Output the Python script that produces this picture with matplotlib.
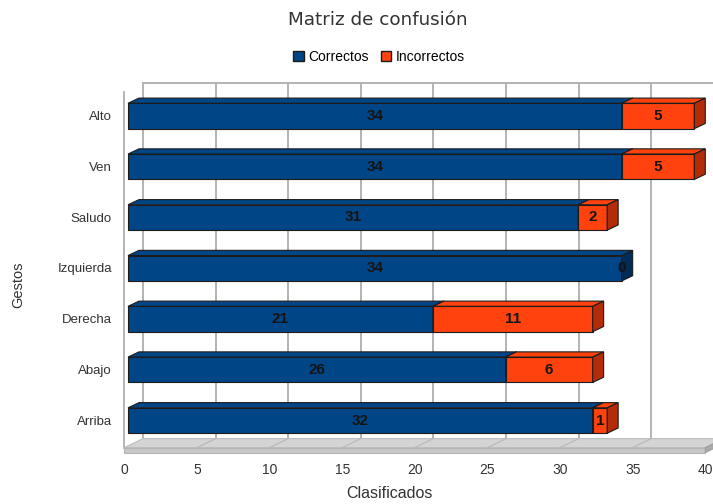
import matplotlib
matplotlib.use("Agg")
import matplotlib.pyplot as plt
from matplotlib.patches import Polygon, Rectangle, Patch
import numpy as np

# Gestures, listed top to bottom
categories = ["Alto", "Ven", "Saludo", "Izquierda", "Derecha", "Abajo", "Arriba"]
correctos = [34, 34, 31, 34, 21, 26, 32]
incorrectos = [5, 5, 2, 0, 11, 6, 1]
xticks = [0, 5, 10, 15, 20, 25, 30, 35, 40]

BLUE = "#004586"
BLUE_SIDE = "#002c57"
ORANGE = "#ff420e"
ORANGE_SIDE = "#b22c08"
EDGE = "#1c1c1c"
GRID = "#b3b3b3"
TEXT = "#333333"

# depth offsets in pixels (x right, y up), relative to the bar front plane
FLOOR_FRONT = np.array([-3.5, -1.7])
BAR_BACK = np.array([11.0, 5.2])
BACK_WALL = np.array([15.0, 7.3])
FLOOR_THICK = 5.0

W, H = 713, 504
fig = plt.figure(figsize=(W / 100, H / 100), dpi=100)
fig.patch.set_facecolor("white")

# axes = bar front plane: value 0 at x=128px, 14.52 px per unit
x0_px, px_unit = 128, 14.52
top_px, bot_px = 90.6, 445.9
ax = fig.add_axes([x0_px / W, (H - bot_px) / H, 40 * px_unit / W, (bot_px - top_px) / H])
ax.set_xlim(0, 40)
ax.set_ylim(-0.5, 6.5)
ax.axis("off")

ypos = np.arange(len(categories))[::-1]
fig.canvas.draw()


def shift(pts, off):
    """Move data points by a pixel offset, returning data coordinates."""
    disp = ax.transData.transform(np.asarray(pts, float)) + off
    return ax.transData.inverted().transform(disp)


def poly(pts, **kw):
    kw.setdefault("clip_on", False)
    ax.add_patch(Polygon(pts, closed=True, **kw))


# back wall grid
for t in xticks:
    seg = shift([[t, -0.5], [t, 6.5]], BACK_WALL)
    ax.plot(seg[:, 0], seg[:, 1], color=GRID, lw=1.4, clip_on=False, zorder=1)
seg = shift([[0, 6.5], [40, 6.5]], BACK_WALL)
ax.plot(seg[:, 0], seg[:, 1], color=GRID, lw=1.4, clip_on=False, zorder=1)

# left wall edge
seg = shift([[0, -0.5], [0, 6.5]], FLOOR_FRONT)
ax.plot(seg[:, 0], seg[:, 1], color="#a8a8a8", lw=1.2, clip_on=False, zorder=1)

# floor slab
front = shift([[0, -0.5], [40, -0.5]], FLOOR_FRONT)
back = shift([[0, -0.5], [40, -0.5]], BACK_WALL)
poly([front[0], front[1], back[1], back[0]], facecolor="#d4d4d4",
     edgecolor="#bdbdbd", lw=0.8, zorder=2)
low = shift([[0, -0.5], [40, -0.5]], FLOOR_FRONT + [0, -FLOOR_THICK])
poly([front[0], front[1], low[1], low[0]], facecolor="#c8c8c8",
     edgecolor="#b5b5b5", lw=0.8, zorder=2)
lowb = shift([[40, -0.5]], BACK_WALL + [0, -FLOOR_THICK])[0]
poly([front[1], back[1], lowb, low[1]], facecolor="#a9a9a9",
     edgecolor="#a0a0a0", lw=0.8, zorder=2)
for t in xticks[1:-1]:
    a = shift([[t, -0.5]], FLOOR_FRONT)[0]
    b = shift([[t, -0.5]], BACK_WALL)[0]
    ax.plot([a[0], b[0]], [a[1], b[1]], color="#bababa", lw=0.9,
            clip_on=False, zorder=2)

# stacked 3d bars
bh = 0.5
for y, c, inc in zip(ypos, correctos, incorrectos):
    segments = [(0, c, BLUE, BLUE_SIDE), (c, inc, ORANGE, ORANGE_SIDE)]
    for left, val, face, side in segments:
        if val > 0:
            right = left + val
            yb, yt = y - bh / 2, y + bh / 2
            tb = shift([[left, yt], [right, yt]], BAR_BACK)
            poly([[left, yt], [right, yt], tb[1], tb[0]], facecolor=face,
                 edgecolor=EDGE, lw=0.8, zorder=3)
            ax.add_patch(Rectangle((left, yb), val, bh, facecolor=face,
                                   edgecolor=EDGE, lw=0.8, zorder=3, clip_on=False))
            sb = shift([[right, yb]], BAR_BACK)[0]
            poly([[right, yb], [right, yt], tb[1], sb], facecolor=side,
                 edgecolor=EDGE, lw=0.8, zorder=3)
        ax.text(left + val / 2, y, str(val), ha="center", va="center",
                fontsize=11, fontweight="bold", color="#141414",
                family="Liberation Sans", zorder=4)

# category labels
for y, name in zip(ypos, categories):
    ax.text(-1.1, y - 0.02, name, ha="right", va="center", fontsize=9.5,
            color=TEXT, family="Liberation Sans")

# value axis labels along the floor front edge
for t in xticks:
    p = shift([[t, -0.5]], FLOOR_FRONT + [0, -22])[0]
    ax.text(p[0], p[1], str(t), ha="center", va="center", fontsize=10,
            color=TEXT, family="Liberation Sans")

fig.text(378 / W, 1 - 20 / H, "Matriz de confusión", ha="center", va="center",
         fontsize=13.2, color=TEXT, family="DejaVu Sans")
fig.text(389 / W, 1 - 494 / H, "Clasificados", ha="center", va="center",
         fontsize=11.5, color=TEXT, family="Liberation Sans")
fig.text(18 / W, 1 - 285 / H, "Gestos", ha="center", va="center",
         rotation=90, fontsize=10.5, color=TEXT, family="Liberation Sans")

handles = [Patch(facecolor=BLUE, edgecolor=EDGE, label="Correctos"),
           Patch(facecolor=ORANGE, edgecolor=EDGE, label="Incorrectos")]
fig.legend(handles=handles, loc="center", bbox_to_anchor=(379 / W, 1 - 57 / H),
           ncol=2, frameon=False, handlelength=0.75, handleheight=0.75,
           handletextpad=0.3, columnspacing=0.9,
           prop={"family": "Liberation Sans", "size": 10})

fig.savefig("out.png", dpi=100)
